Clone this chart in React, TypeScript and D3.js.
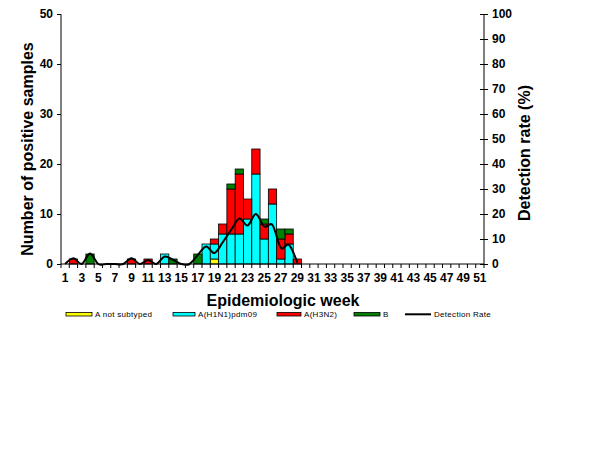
import React, { useEffect, useRef } from 'react';
import * as d3 from 'd3';

// weeks 1..51
const weeks = d3.range(1, 52);

// positive samples per week (weeks 1..29, rest empty)
const notSubtyped = [0, 0, 0, 0, 0, 0, 0, 0, 0, 0, 0, 0, 0, 0, 0, 0, 0, 0, 1, 0, 0, 0, 0, 0, 0, 0, 0, 0, 0];
const h1n1 = [0, 0, 0, 0, 0, 0, 0, 0, 0, 0, 0, 0, 2, 0, 0, 0, 0, 4, 3, 6, 6, 6, 9, 18, 5, 12, 1, 4, 0];
const h3n2 = [0, 1, 0, 0, 0, 0, 0, 0, 1, 0, 1, 0, 0, 0, 0, 0, 0, 0, 1, 2, 9, 12, 4, 5, 3, 3, 4, 2, 1];
const fluB = [0, 0, 0, 2, 0, 0, 0, 0, 0, 0, 0, 0, 0, 1, 0, 0, 2, 0, 0, 0, 1, 1, 0, 0, 1, 0, 2, 1, 0];

// detection rate (%), weeks 1..29
const detectionRate = [0, 2.3, 0, 4.2, 0, 0, 0, 0, 2.3, 0, 1.6, 0, 3, 1.7, 0, 0, 3.6, 7, 4.4, 8.7, 13.6, 18.2, 15.4, 20, 15, 15.6, 6.5, 7.6, 0.5];

const leftTicks = [0, 10, 20, 30, 40, 50];
const rightTicks = [0, 10, 20, 30, 40, 50, 60, 70, 80, 90, 100];

const seriesKeys = ['A not subtyped', 'A(H1N1)pdm09', 'A(H3N2)', 'B'];
const seriesColors = ['#ffff00', '#00ffff', '#ff0000', '#007f00'];

const FONT = "Arial, 'Liberation Sans', sans-serif";

export default function App() {
  const svgRef = useRef<SVGSVGElement>(null);

  useEffect(() => {
    if (!svgRef.current) return;
    const svg = d3.select(svgRef.current);
    svg.selectAll('*').remove();

    const left = 61, right = 484, top = 14, bottom = 264;

    const x = d3.scaleBand<number>().domain(weeks).range([left, right]).padding(0);
    const y = d3.scaleLinear().domain([0, 50]).range([bottom, top]);
    const yRate = d3.scaleLinear().domain([0, 100]).range([bottom, top]);

    const rows = weeks.map((w, i) => ({
      week: w,
      'A not subtyped': notSubtyped[i] ?? 0,
      'A(H1N1)pdm09': h1n1[i] ?? 0,
      'A(H3N2)': h3n2[i] ?? 0,
      'B': fluB[i] ?? 0,
    }));

    const stacked = d3.stack<any>().keys(seriesKeys)(rows);

    // bars
    stacked.forEach((layer, li) => {
      svg.append('g')
        .selectAll('rect')
        .data(layer.filter(d => d[1] - d[0] > 0))
        .join('rect')
        .attr('x', d => x(d.data.week)!)
        .attr('width', x.bandwidth())
        .attr('y', d => y(d[1]))
        .attr('height', d => y(d[0]) - y(d[1]))
        .attr('fill', seriesColors[li])
        .attr('stroke', '#000')
        .attr('stroke-width', 0.8);
    });

    // detection rate line
    const line = d3.line<number>()
      .x((_, i) => x(weeks[i])! + x.bandwidth() / 2)
      .y(d => yRate(d))
      .curve(d3.curveCardinal.tension(0));

    svg.append('path')
      .attr('d', line(detectionRate))
      .attr('fill', 'none')
      .attr('stroke', '#000')
      .attr('stroke-width', 2);

    // x axis
    const xAxis = svg.append('g').attr('font-family', FONT);
    xAxis.append('line')
      .attr('x1', left).attr('x2', right)
      .attr('y1', bottom).attr('y2', bottom)
      .attr('stroke', '#000');
    const edges = weeks.map(w => x(w)!).concat([right]);
    xAxis.selectAll('line.tick')
      .data(edges)
      .join('line')
      .attr('class', 'tick')
      .attr('x1', d => d).attr('x2', d => d)
      .attr('y1', bottom).attr('y2', bottom + 4)
      .attr('stroke', '#000');
    xAxis.selectAll('text')
      .data(weeks.filter(w => w % 2 === 1))
      .join('text')
      .attr('x', d => x(d)! + x.bandwidth() / 2)
      .attr('y', 282)
      .attr('text-anchor', 'middle')
      .attr('font-size', 12)
      .attr('font-weight', 'bold')
      .text(d => d);

    // left axis
    const yAxis = svg.append('g')
      .attr('transform', `translate(${left},0)`)
      .call(d3.axisLeft(y).tickValues(leftTicks).tickSize(4).tickPadding(4));
    yAxis.selectAll('text').attr('font-size', 12).attr('font-weight', 'bold').attr('font-family', FONT);
    yAxis.select('.domain').attr('d', `M0,${top}V${bottom}`);

    // right axis, ticks cross the line
    const rAxis = svg.append('g')
      .attr('transform', `translate(${right},0)`)
      .call(d3.axisRight(yRate).tickValues(rightTicks).tickSize(4).tickPadding(4));
    rAxis.selectAll('.tick line').attr('x1', -4);
    rAxis.selectAll('text').attr('font-size', 12).attr('font-weight', 'bold').attr('font-family', FONT);
    rAxis.select('.domain').attr('d', `M0,${top}V${bottom}`);

    // axis titles
    svg.append('text')
      .attr('transform', `translate(33,149) rotate(-90)`)
      .attr('text-anchor', 'middle')
      .attr('font-family', FONT)
      .attr('font-size', 16)
      .attr('font-weight', 'bold')
      .text('Number of positive samples');

    svg.append('text')
      .attr('transform', `translate(530,153) rotate(-90)`)
      .attr('text-anchor', 'middle')
      .attr('font-family', FONT)
      .attr('font-size', 16)
      .attr('font-weight', 'bold')
      .text('Detection rate (%)');

    svg.append('text')
      .attr('x', 283)
      .attr('y', 306)
      .attr('text-anchor', 'middle')
      .attr('font-family', FONT)
      .attr('font-size', 16)
      .attr('font-weight', 'bold')
      .text('Epidemiologic week');

    // legend
    const legendItems = [
      { label: 'A not subtyped', color: seriesColors[0], x: 66, tx: 95, type: 'box' },
      { label: 'A(H1N1)pdm09', color: seriesColors[1], x: 173, tx: 198, type: 'box' },
      { label: 'A(H3N2)', color: seriesColors[2], x: 277, tx: 304, type: 'box' },
      { label: 'B', color: seriesColors[3], x: 354, tx: 383, type: 'box' },
      { label: 'Detection Rate', color: '#000', x: 405, tx: 434, type: 'line' },
    ];
    const lg = svg.append('g').attr('font-family', FONT);
    legendItems.forEach(it => {
      if (it.type === 'box') {
        lg.append('rect')
          .attr('x', it.x).attr('y', 312.5)
          .attr('width', it.tx - it.x - 3).attr('height', 3.5)
          .attr('fill', it.color)
          .attr('stroke', '#000')
          .attr('stroke-width', 0.8);
      } else {
        lg.append('line')
          .attr('x1', it.x).attr('x2', it.tx - 3)
          .attr('y1', 314.3).attr('y2', 314.3)
          .attr('stroke', '#000')
          .attr('stroke-width', 2);
      }
      lg.append('text')
        .attr('x', it.tx)
        .attr('y', 317)
        .attr('font-size', 8)
        .attr('letter-spacing', 0.3)
        .text(it.label);
    });
  }, []);

  return (
    <svg
      ref={svgRef}
      width={614}
      height={460}
      style={{ position: 'absolute', left: 0, top: 0, background: '#fff' }}
    />
  );
}
